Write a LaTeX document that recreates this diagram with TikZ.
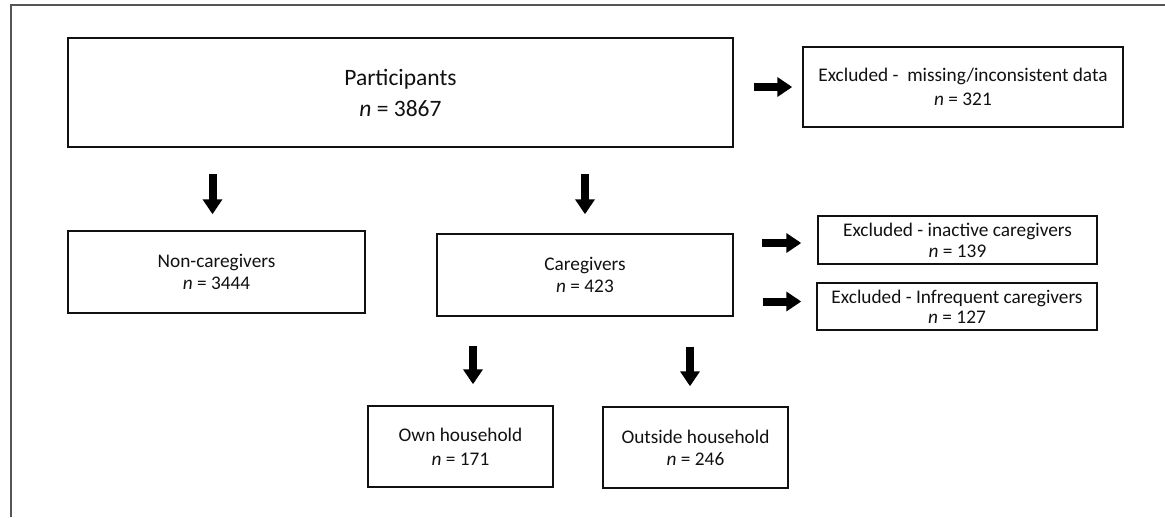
\documentclass[tikz,border=0pt]{standalone}
\usepackage{fontspec}
\setmainfont{Carlito}
\usepackage{xcolor}
\usepackage{tikz}
\usetikzlibrary{arrows.meta,positioning}
\definecolor{ink}{HTML}{111111}
\definecolor{frame}{HTML}{555555}
\tikzset{
  box/.style={draw=ink, line width=1.5pt, rectangle, inner sep=0pt, align=center,
    text=ink, font=\fontsize{19.3}{22}\selectfont},
  bigbox/.style={box, font=\fontsize{23.5}{31}\selectfont},
  arr/.style={draw=black, line width=8pt, -{Triangle[length=15pt,width=19pt]}},
  outline/.style={draw=frame, line width=2pt},
}

\begin{document}
\begin{tikzpicture}[x=1pt,y=-1pt]
\useasboundingbox (0,0) rectangle (1165,517);
\draw[outline] (11,517) -- (11,5) -- (1165,5);

% top row
\node[bigbox, minimum width=665pt, minimum height=109pt] (part) at (400.5,92.5)
  {Participants\\\textit{n} = 3867};
\node[box, minimum width=320pt, minimum height=80pt,
  font=\fontsize{19.3}{24}\selectfont] (excl1) at (963,87)
  {Excluded -\ \ missing/inconsistent data\\\textit{n} =\ 321};

% middle row
\node[box, minimum width=297pt, minimum height=82pt] (noncare) at (216.5,272)
  {Non-caregivers\\\textit{n} = 3444};
\node[box, minimum width=296pt, minimum height=82pt] (care) at (585,275)
  {Caregivers\\\textit{n} = 423};
\node[box, minimum width=279pt, minimum height=48pt,
  font=\fontsize{19.3}{21}\selectfont] (excl2) at (957.5,240)
  {Excluded - inactive caregivers\\\textit{n} = 139};
\node[box, minimum width=280pt, minimum height=47pt,
  font=\fontsize{19.3}{20}\selectfont] (excl3) at (957,306.5)
  {Excluded - Infrequent caregivers\\\textit{n} = 127};

% bottom row
\node[box, minimum width=185pt, minimum height=81pt,
  font=\fontsize{19.3}{24}\selectfont] (own) at (460.5,446.5)
  {Own household\\\textit{n} = 171};
\node[box, minimum width=185pt, minimum height=81pt] (outside) at (695.5,447.5)
  {Outside household\\\textit{n} = 246};

% block arrows
\draw[arr, shorten <=20pt, shorten >=10pt] (part.east |- excl1.west) -- (excl1.west);
\draw[arr, shorten <=26pt, shorten >=16pt] ([xshift=-4pt]part.south -| noncare.north) -- ([xshift=-4pt]noncare.north);
\draw[arr, shorten <=26pt, shorten >=19pt] (part.south -| care.north) -- (care.north);
\draw[arr, shorten <=28pt, shorten >=16pt] ([yshift=-3pt]care.east |- excl2.west) -- ([yshift=-3pt]excl2.west);
\draw[arr, shorten <=29pt, shorten >=15pt] ([yshift=5pt]care.east |- excl3.west) -- ([yshift=5pt]excl3.west);
\draw[arr, shorten <=29pt, shorten >=21pt] ([xshift=12.5pt]care.south -| own.north) -- ([xshift=12.5pt]own.north);
\draw[arr, shorten <=30pt, shorten >=20pt] ([xshift=-5.5pt]care.south -| outside.north) -- ([xshift=-5.5pt]outside.north);
\end{tikzpicture}
\end{document}
